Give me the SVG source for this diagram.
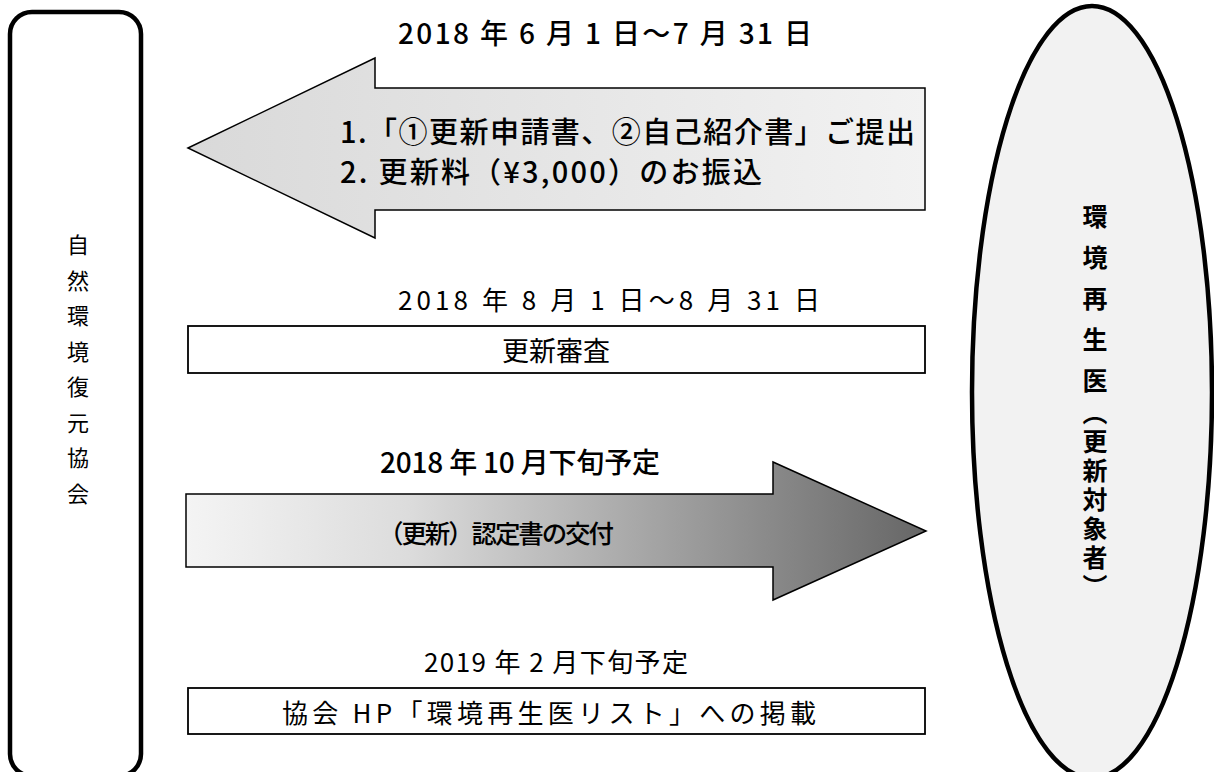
<svg xmlns="http://www.w3.org/2000/svg" width="1214" height="772" viewBox="0 0 1214 772">
<defs>
<linearGradient id="gTop" x1="188" y1="0" x2="925" y2="0" gradientUnits="userSpaceOnUse">
<stop offset="0" stop-color="#d9d9d9"/>
<stop offset="1" stop-color="#f2f2f2"/>
</linearGradient>
<linearGradient id="gBot" x1="186" y1="0" x2="926" y2="0" gradientUnits="userSpaceOnUse">
<stop offset="0" stop-color="#f4f4f4"/>
<stop offset="0.3" stop-color="#dcdcdc"/>
<stop offset="1" stop-color="#666666"/>
</linearGradient>
<style>
text{font-family:"Noto Sans CJK JP","Noto Sans",sans-serif;fill:#000;dominant-baseline:central}
.c{text-anchor:middle}
.b{font-weight:500}
.thick{stroke:#000;stroke-width:4.5}
.thin{fill:#fff;stroke:#000;stroke-width:1.8}
.arrow{stroke:#000;stroke-width:1.5;stroke-linejoin:miter}
</style>
</defs>
<rect width="1214" height="772" fill="#fff"/>

<g id="kyokai">
<rect class="thick" x="10" y="12" width="131" height="764" rx="22" fill="#fff"/>
<g font-size="22">
<text class="c" x="78" y="243">自</text>
<text class="c" x="78" y="278.5">然</text>
<text class="c" x="78" y="314">環</text>
<text class="c" x="78" y="349.5">境</text>
<text class="c" x="78" y="385">復</text>
<text class="c" x="78" y="420.5">元</text>
<text class="c" x="78" y="456">協</text>
<text class="c" x="78" y="491.5">会</text>
</g>
</g>

<g id="ishi">
<ellipse class="thick" cx="1092" cy="392" rx="120" ry="386" fill="#f2f2f2"/>
<g font-size="25" font-weight="700">
<text class="c" x="1095" y="215">環</text>
<text class="c" x="1095" y="256">境</text>
<text class="c" x="1095" y="297">再</text>
<text class="c" x="1095" y="338">生</text>
<text class="c" x="1095" y="379">医</text>
<text x="1095" y="400" writing-mode="vertical-rl" letter-spacing="4" style="dominant-baseline:auto">（更新対象者）</text>
</g>
</g>

<g id="connectors">
<g id="arrow-submit">
<path class="arrow" fill="url(#gTop)" d="M188,148 L375,58 L375,88 L925,88 L925,210 L375,210 L375,238 Z"/>
<text class="b" x="398" y="32" font-size="28" textLength="414" lengthAdjust="spacing">2018 年 6 月 1 日～7 月 31 日</text>
<text class="b" x="340" y="130" font-size="29" textLength="575" lengthAdjust="spacing">1.「①更新申請書、②自己紹介書」ご提出</text>
<text class="b" x="340" y="170" font-size="29" textLength="422" lengthAdjust="spacing">2. 更新料（¥3,000）のお振込</text>
</g>
<g id="arrow-issue">
<path class="arrow" fill="url(#gBot)" d="M186,494 L773,494 L773,462 L926,531 L773,600 L773,567 L186,567 Z"/>
<text class="b" x="380" y="461" font-size="28" textLength="280" lengthAdjust="spacing">2018 年 10 月下旬予定</text>
<text class="b" x="378" y="531" font-size="25.5" textLength="236" lengthAdjust="spacing">（更新）認定書の交付</text>
</g>
</g>

<g id="shinsa">
<text x="398" y="298" font-size="26" textLength="422" lengthAdjust="spacing">2018 年 8 月 1 日～8 月 31 日</text>
<rect class="thin" x="188" y="326" width="737" height="47"/>
<text class="c" x="556" y="349" font-size="27">更新審査</text>
</g>

<g id="keisai">
<text x="424" y="660" font-size="26" textLength="264" lengthAdjust="spacing">2019 年 2 月下旬予定</text>
<rect class="thin" x="188" y="688" width="737" height="46"/>
<text x="282" y="711" font-size="26" textLength="534" lengthAdjust="spacing">協会 HP「環境再生医リスト」への掲載</text>
</g>
</svg>
